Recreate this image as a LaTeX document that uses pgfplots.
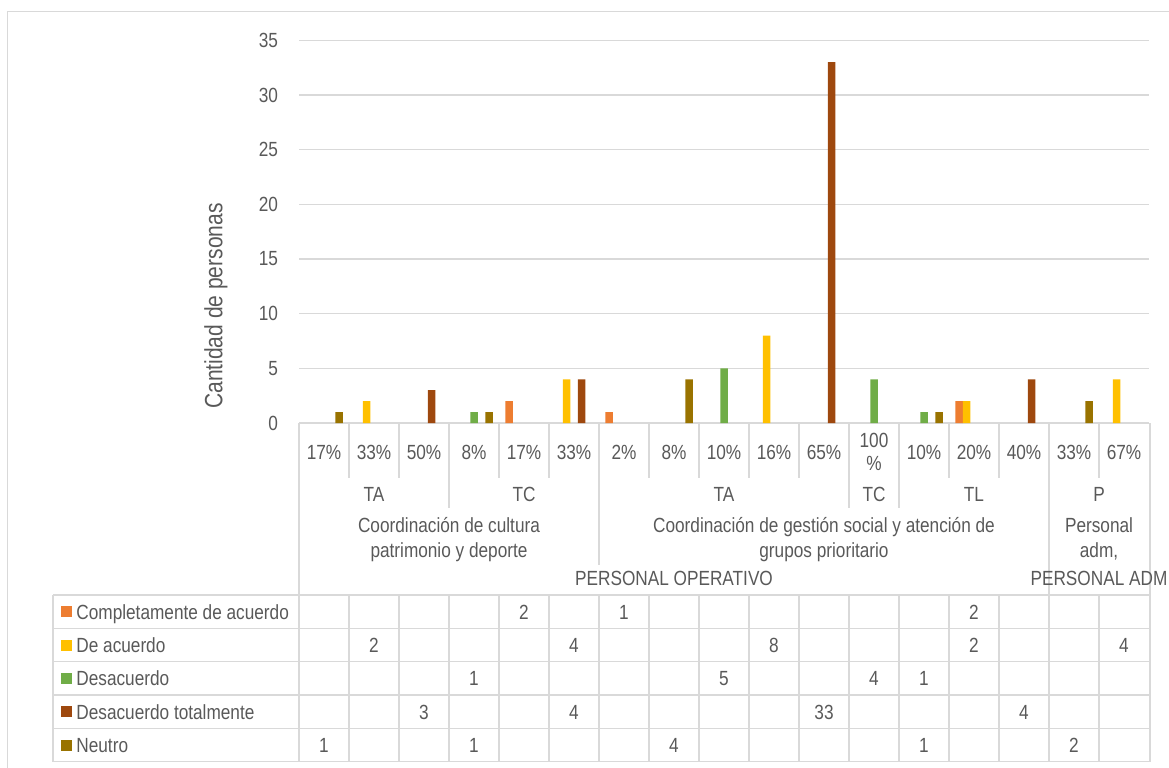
\documentclass[border=0pt]{standalone}
\usepackage{pgfplots}
\pgfplotsset{compat=1.18}
\usepackage{pgfplotstable}
\usepackage{fontspec}
\setmainfont{Liberation Sans}[FakeStretch=0.84]
\definecolor{txt}{HTML}{595959}
\definecolor{grd}{HTML}{D9D9D9}
\definecolor{cComp}{HTML}{ED7D31}
\definecolor{cDeac}{HTML}{FFC000}
\definecolor{cDes}{HTML}{70AD47}
\definecolor{cDesT}{HTML}{9E480E}
\definecolor{cNeu}{HTML}{997300}

% Completamente de acuerdo
\pgfplotstableread{
x y
4 2
6 1
13 2
}\comp
% De acuerdo
\pgfplotstableread{
x y
1 2
5 4
9 8
13 2
16 4
}\deac
% Desacuerdo
\pgfplotstableread{
x y
3 1
8 5
11 4
12 1
}\des
% Desacuerdo totalmente
\pgfplotstableread{
x y
2 3
5 4
10 33
14 4
}\dest
% Neutro
\pgfplotstableread{
x y
0 1
3 1
7 4
12 1
15 2
}\neu

\newcommand\fs{\fontsize{10.25pt}{12.3pt}\selectfont}

\begin{document}
\begin{tikzpicture}
\useasboundingbox (0pt,0pt) rectangle (584.5pt,-383.5pt);

% ---------- bar chart ----------
\begin{axis}[
  at={(149.5pt,-211.5pt)}, anchor=south west,
  scale only axis, width=425pt, height=191.35pt,
  xmin=-0.5, xmax=16.5, ymin=0, ymax=35,
  ytick={0,5,...,35}, xtick=\empty,
  ymajorgrids, major grid style={grd, line width=0.75pt},
  axis line style={draw=none}, major tick length=0pt,
  tick label style={font=\fs, text=txt},
  yticklabel style={xshift=-7pt},
  /pgf/number format/assume math mode=true,
  bar width=0.15, clip=false]
\addplot[ybar, bar shift=-0.3, fill=cComp, draw=none] table[x=x,y=y]{\comp};
\addplot[ybar, bar shift=-0.15, fill=cDeac, draw=none] table[x=x,y=y]{\deac};
\addplot[ybar, bar shift=0, fill=cDes, draw=none] table[x=x,y=y]{\des};
\addplot[ybar, bar shift=0.15, fill=cDesT, draw=none] table[x=x,y=y]{\dest};
\addplot[ybar, bar shift=0.3, fill=cNeu, draw=none] table[x=x,y=y]{\neu};
\end{axis}

% ---------- data table values ----------
\begin{axis}[
  at={(0pt,-383.5pt)}, anchor=south west,
  scale only axis, width=584.5pt, height=383.5pt,
  xmin=0, xmax=1169, ymin=-767, ymax=0,
  hide axis, clip=false,
  /pgf/number format/assume math mode=true,
  nodes near coords style={anchor=base, inner sep=0pt, font=\fs, text=txt}]
\addplot[draw=none, mark=none, nodes near coords, point meta=explicit]
  table[x expr=\thisrow{x}*50+324, y expr=-619, meta=y]{\comp};
\addplot[draw=none, mark=none, nodes near coords, point meta=explicit]
  table[x expr=\thisrow{x}*50+324, y expr=-652.3, meta=y]{\deac};
\addplot[draw=none, mark=none, nodes near coords, point meta=explicit]
  table[x expr=\thisrow{x}*50+324, y expr=-685.6, meta=y]{\des};
\addplot[draw=none, mark=none, nodes near coords, point meta=explicit]
  table[x expr=\thisrow{x}*50+324, y expr=-719, meta=y]{\dest};
\addplot[draw=none, mark=none, nodes near coords, point meta=explicit]
  table[x expr=\thisrow{x}*50+324, y expr=-752.3, meta=y]{\neu};
\end{axis}

% ---------- frame, category axis and table grid ----------
\begin{scope}[x=0.5pt, y=-0.5pt, every node/.style={font=\fs, text=txt, inner sep=0pt}]
\draw[grd, line width=0.75pt] (7.3,770) -- (7.3,11.7) -- (1175,11.7);
\begin{scope}[grd, line width=0.75pt]
\foreach \yy in {595,628.33,661.67,695,728.33,761.67}
  \draw (53,\yy) -- (1150,\yy);
\draw (53,595) -- (53,761.67);
\draw (299,423) -- (299,761.67);
\draw (1150,423) -- (1150,761.67);
\foreach \i in {1,...,16} {
  \draw ({299+50*\i},423) -- ({299+50*\i},478);
  \draw ({299+50*\i},595) -- ({299+50*\i},761.67);
}
\foreach \xx in {449,599,849,899,1049}
  \draw (\xx,423) -- (\xx,508);
\foreach \xx in {599,1049}
  \draw (\xx,423) -- (\xx,565);
\draw (1049,423) -- (1049,595);
\end{scope}

% level 1 labels
\foreach \i/\t in {0/17\%,1/33\%,2/50\%,3/8\%,4/17\%,5/33\%,6/2\%,7/8\%,8/10\%,9/16\%,10/65\%,12/10\%,13/20\%,14/40\%,15/33\%,16/67\%}
  \node[anchor=base] at ({324+50*\i},459) {\t};
\node[anchor=base] at (874,447.3) {100};
\node[anchor=base] at (874,470.3) {\%};
% level 2 labels
\node[anchor=base] at (374,501.3) {TA};
\node[anchor=base] at (524,501.3) {TC};
\node[anchor=base] at (724,501.3) {TA};
\node[anchor=base] at (874,501.3) {TC};
\node[anchor=base] at (974,501.3) {TL};
\node[anchor=base] at (1099,501.3) {P};
% level 3 labels
\node[anchor=base] at (449,532.8) {Coordinación de cultura};
\node[anchor=base] at (449,557.8) {patrimonio y deporte};
\node[anchor=base] at (824,532.8) {Coordinación de gestión social y atención de};
\node[anchor=base] at (824,557.8) {grupos prioritario};
\node[anchor=base] at (1099,532.8) {Personal};
\node[anchor=base] at (1099,557.8) {adm,};
% level 4 labels
\node[anchor=base] at (674,585.8) {PERSONAL OPERATIVO};
\node[anchor=base] at (1099,585.8) {PERSONAL ADM};

% legend column of the data table
\foreach \r/\c/\t in {0/cComp/Completamente de acuerdo,1/cDeac/De acuerdo,2/cDes/Desacuerdo,3/cDesT/Desacuerdo totalmente,4/cNeu/Neutro} {
  \fill[\c] (61,{606.3+33.33*\r}) rectangle (72,{617.3+33.33*\r});
  \node[anchor=base west] at (76,{619+33.33*\r}) {\t};
}

% y axis title
\node[rotate=90, font=\fontsize{12.5pt}{15pt}\selectfont] at (216,306) {Cantidad de personas};
\end{scope}
\end{tikzpicture}
\end{document}
